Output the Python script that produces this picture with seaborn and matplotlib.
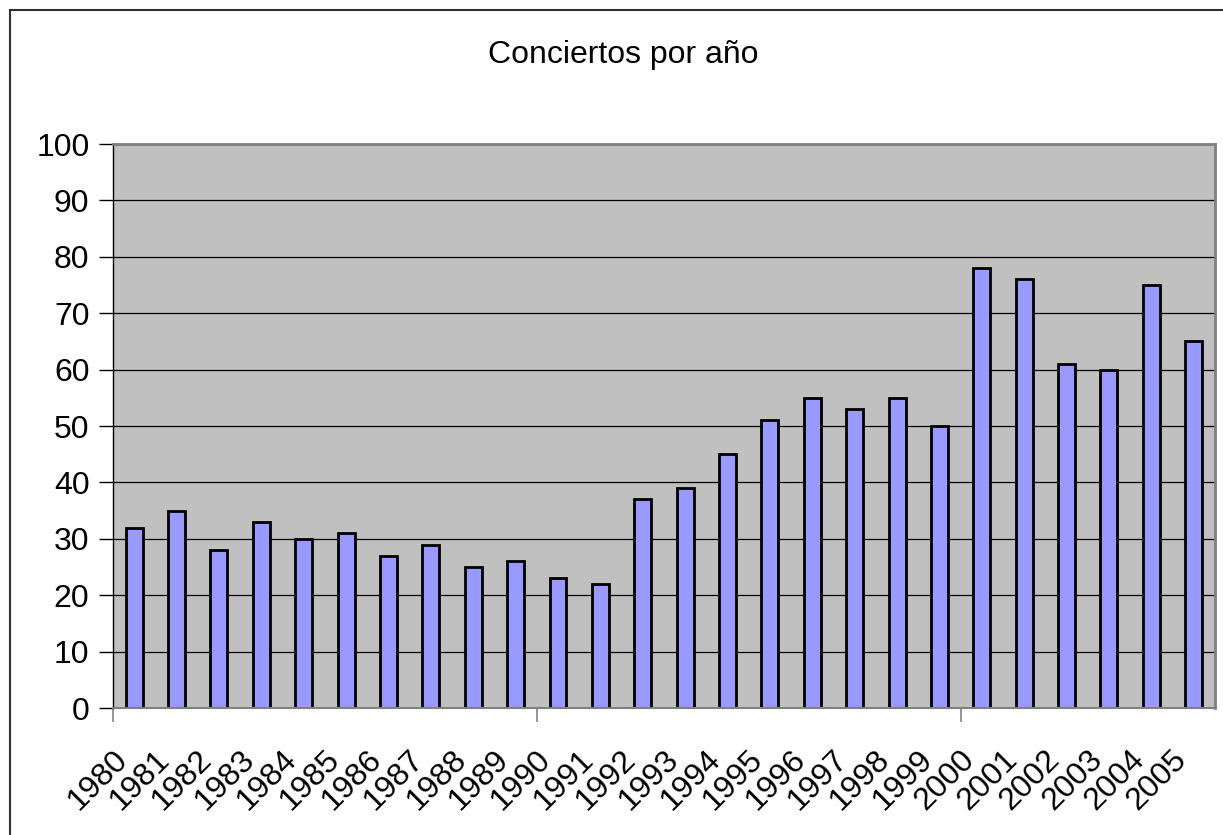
import matplotlib
matplotlib.use('Agg')
import matplotlib.pyplot as plt
import matplotlib.transforms as mtransforms
import seaborn as sns
import pandas as pd

years = [str(y) for y in range(1980, 2006)]
conciertos = [32, 35, 28, 33, 30, 31, 27, 29, 25, 26, 23, 22, 37, 39,
              45, 51, 55, 53, 55, 50, 78, 76, 61, 60, 75, 65]

df = pd.DataFrame({'anio': years, 'conciertos': conciertos})

sns.set_theme(style="white")
plt.rcParams['font.family'] = ['Liberation Sans', 'DejaVu Sans']

fig = plt.figure(figsize=(12.23, 8.35), dpi=100)
ax = fig.add_axes([0.0924, 0.152, 0.901, 0.6755])

# marco de la figura estilo Excel (solo se ve arriba e izquierda)
fig.patches.append(plt.Rectangle((10 / 1223, -0.05), 1.2, 1 - 10 / 835 + 0.05,
                                 transform=fig.transFigure, fill=False,
                                 edgecolor='#303030', linewidth=1.5))

ax.set_facecolor('#C0C0C0')
ax.set_axisbelow(True)
ax.yaxis.grid(True, color='black', linewidth=0.9)

sns.barplot(x='anio', y='conciertos', data=df, color='#9999FF',
            edgecolor='black', linewidth=2, width=0.4, saturation=1, ax=ax)

ax.set_ylim(0, 100)
ax.set_xlim(-0.5, len(years) - 0.5)
ax.set_yticks(range(0, 101, 10))
ax.tick_params(axis='y', labelsize=23, length=10, width=1, color='black',
               left=True, pad=7, labelcolor='black')

# etiquetas de año rotadas
ax.set_xticks(range(len(years)))
ax.set_xticklabels(years, rotation=45, ha='right', rotation_mode='anchor',
                   fontsize=23)
ax.tick_params(axis='x', length=0, pad=26, labelcolor='black')
offset = mtransforms.ScaledTranslation(-22 / 100, 0, fig.dpi_scale_trans)
for lab in ax.get_xticklabels():
    lab.set_transform(lab.get_transform() + offset)

# marcas cada 10 categorías
ax.set_xticks([-0.5, 9.5, 19.5], minor=True)
ax.tick_params(axis='x', which='minor', length=10, width=1.2, color='#808080',
               bottom=True)

for side in ['top', 'right']:
    ax.spines[side].set_color('#808080')
    ax.spines[side].set_linewidth(2)
ax.spines['left'].set_color('black')
ax.spines['left'].set_linewidth(1)
ax.spines['bottom'].set_color('#808080')
ax.spines['bottom'].set_linewidth(1.5)

ax.set_xlabel('')
ax.set_ylabel('')
fig.text(623 / 1223, 1 - 55 / 835, 'Conciertos por año', ha='center',
         va='center', fontsize=23, color='black')

plt.savefig('out.png', dpi=100)
